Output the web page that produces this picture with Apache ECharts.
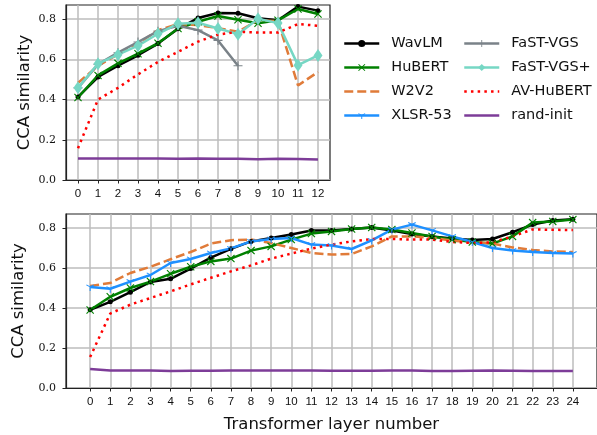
<!DOCTYPE html>
<html>
<head>
<meta charset="utf-8">
<script src="https://cdn.jsdelivr.net/npm/echarts@6/dist/echarts.min.js"></script>
<style>
html,body{margin:0;padding:0;background:#fff;}
#chart{width:597px;height:435px;}
</style>
</head>
<body>
<div id="chart"></div>
<script>
// ---------- data ----------
const layers12 = [0,1,2,3,4,5,6,7,8,9,10,11,12];
const layers24 = [0,1,2,3,4,5,6,7,8,9,10,11,12,13,14,15,16,17,18,19,20,21,22,23,24];
const yTicks = [0, 0.2, 0.4, 0.6, 0.8];

// top panel (12-layer models)
const wavlm12    = [0.413, 0.512, 0.568, 0.62, 0.678, 0.752, 0.805, 0.83, 0.829, 0.804, 0.794, 0.862, 0.842];
const hubert12   = [0.41, 0.52, 0.58, 0.628, 0.68, 0.753, 0.787, 0.815, 0.797, 0.779, 0.794, 0.85, 0.825];
const w2v2_12    = [0.483, 0.567, 0.625, 0.678, 0.745, 0.775, 0.77, 0.755, 0.737, 0.795, 0.79, 0.47, 0.537];
const fastvgs12  = [0.458, 0.575, 0.633, 0.686, 0.74, 0.767, 0.745, 0.694, 0.568];
const fastvgsP12 = [0.458, 0.578, 0.623, 0.668, 0.727, 0.777, 0.782, 0.753, 0.725, 0.802, 0.78, 0.571, 0.619];
const avhubert12 = [0.158, 0.40, 0.458, 0.525, 0.587, 0.637, 0.688, 0.723, 0.737, 0.733, 0.733, 0.775, 0.767];
const randinit12 = [0.107, 0.107, 0.107, 0.107, 0.107, 0.106, 0.107, 0.106, 0.106, 0.103, 0.106, 0.104, 0.102];

// bottom panel (24-layer models)
const wavlm24    = [0.391, 0.431, 0.479, 0.53, 0.546, 0.597, 0.652, 0.696, 0.733, 0.75, 0.767, 0.787, 0.787, 0.795, 0.803, 0.788, 0.77, 0.758, 0.747, 0.74, 0.745, 0.779, 0.817, 0.837, 0.844];
const hubert24   = [0.39, 0.456, 0.50, 0.532, 0.571, 0.606, 0.633, 0.647, 0.687, 0.708, 0.742, 0.772, 0.783, 0.795, 0.803, 0.792, 0.775, 0.758, 0.742, 0.73, 0.722, 0.758, 0.827, 0.833, 0.842];
const w2v2_24    = [0.51, 0.525, 0.575, 0.606, 0.644, 0.68, 0.722, 0.739, 0.742, 0.725, 0.70, 0.675, 0.667, 0.67, 0.708, 0.758, 0.758, 0.75, 0.737, 0.728, 0.722, 0.703, 0.69, 0.683, 0.68];
const xlsr24     = [0.505, 0.496, 0.532, 0.565, 0.625, 0.645, 0.675, 0.698, 0.733, 0.745, 0.75, 0.717, 0.713, 0.695, 0.738, 0.792, 0.817, 0.788, 0.758, 0.73, 0.70, 0.687, 0.68, 0.675, 0.672];
const avhubert24 = [0.155, 0.372, 0.417, 0.45, 0.483, 0.518, 0.551, 0.583, 0.613, 0.647, 0.672, 0.697, 0.717, 0.733, 0.745, 0.745, 0.742, 0.742, 0.73, 0.725, 0.728, 0.758, 0.793, 0.791, 0.79];
const randinit24 = [0.095, 0.088, 0.088, 0.088, 0.085, 0.086, 0.086, 0.087, 0.087, 0.087, 0.087, 0.087, 0.086, 0.086, 0.086, 0.087, 0.087, 0.085, 0.085, 0.086, 0.087, 0.086, 0.085, 0.085, 0.085];

// ---------- styling ----------
const C = {
  wavlm: '#000000', hubert: '#008000', w2v2: '#e07b39', xlsr: '#1e90ff',
  fastvgs: '#7a8288', fastvgsP: '#76d7c4', avhubert: '#ff0000', rand: '#7d3c98'
};
const SYM_X = 'path://M0,1L1,0L5,4L9,0L10,1L6,5L10,9L9,10L5,6L1,10L0,9L4,5Z';
const SYM_PLUS = 'path://M4.4,0H5.6V4.4H10V5.6H5.6V10H4.4V5.6H0V4.4H4.4Z';
const SYM_TRI = 'path://M4.4,5H5.6V10H4.4Z M4.7,4.4L9.0,1.9L9.6,2.9L5.3,5.4Z M5.3,4.4L1.0,1.9L0.4,2.9L4.7,5.4Z M5,0L5.05,0L5,0.05Z';

const pairs = (xs, ys) => ys.map((v, i) => [xs[i], v]);
const LW = 2.5;

function mk(name, data, idx, color, opts) {
  return Object.assign({
    name, type: 'line', xAxisIndex: idx, yAxisIndex: idx,
    data, color, showAllSymbol: true, animation: false,
    symbol: 'none', symbolSize: 6,
    lineStyle: { color, width: LW, type: 'solid' },
    itemStyle: { color }
  }, opts || {});
}

function seriesFor(idx, xs, d) {
  const s = [];
  s.push(mk('WavLM', pairs(xs, d.wavlm), idx, C.wavlm, { symbol: 'circle', symbolSize: 5 }));
  s.push(mk('HuBERT', pairs(xs, d.hubert), idx, C.hubert, { symbol: SYM_X, symbolSize: 8 }));
  s.push(mk('W2V2', pairs(xs, d.w2v2), idx, C.w2v2, { lineStyle: { color: C.w2v2, width: LW, type: [9, 4] } }));
  s.push(mk('XLSR-53', d.xlsr ? pairs(xs, d.xlsr) : [], idx, C.xlsr, { symbol: SYM_TRI, symbolSize: 8 }));
  if (d.fastvgs) s.push(mk('FaST-VGS', pairs(xs, d.fastvgs), idx, C.fastvgs, { symbol: SYM_PLUS, symbolSize: 9 }));
  if (d.fastvgsP) s.push(mk('FaST-VGS+', pairs(xs, d.fastvgsP), idx, C.fastvgsP, { symbol: 'diamond', symbolSize: [9, 13] }));
  s.push(mk('AV-HuBERT', pairs(xs, d.avhubert), idx, C.avhubert, { lineStyle: { color: C.avhubert, width: LW, type: [2.5, 4.2] } }));
  s.push(mk('rand-init', pairs(xs, d.rand), idx, C.rand));
  return s;
}

const series = [].concat(
  seriesFor(0, layers12, { wavlm: wavlm12, hubert: hubert12, w2v2: w2v2_12, fastvgs: fastvgs12, fastvgsP: fastvgsP12, avhubert: avhubert12, rand: randinit12 }),
  seriesFor(1, layers24, { wavlm: wavlm24, hubert: hubert24, w2v2: w2v2_24, xlsr: xlsr24, avhubert: avhubert24, rand: randinit24 })
);

const AX = '#222';
const GRIDC = '#bdbdbd';

function xAxisCfg(idx, ticks, mn, mx, withName) {
  return {
    type: 'value', gridIndex: idx, min: mn, max: mx,
    axisLine: { show: true, onZero: false, lineStyle: { color: AX, width: 1.2 } },
    axisTick: { show: true, inside: false, length: 3.5, customValues: ticks, lineStyle: { color: AX, width: 1 } },
    axisLabel: { customValues: ticks, margin: 8, fontFamily: 'Liberation Sans', fontSize: 11.5, color: '#111',
                 formatter: v => String(Math.round(v)) },
    splitLine: { show: true, lineStyle: { color: GRIDC, width: 1.5 } },
    name: withName ? 'Transformer layer number' : '',
    nameLocation: 'middle', nameGap: 28,
    nameTextStyle: { fontFamily: 'DejaVu Sans', fontSize: 16.5, color: '#111' }
  };
}
function yAxisCfg(idx) {
  return {
    type: 'value', gridIndex: idx, min: 0, max: 0.87,
    axisLine: { show: true, onZero: false, lineStyle: { color: AX, width: 1.2 } },
    axisTick: { show: true, inside: false, length: 3.5, customValues: yTicks, lineStyle: { color: AX, width: 1 } },
    axisLabel: { customValues: yTicks, margin: 10, fontFamily: 'DejaVu Serif', fontSize: 11, color: '#111',
                 formatter: v => v.toFixed(1) },
    splitLine: { show: true, lineStyle: { color: GRIDC, width: 1.5 } },
    name: 'CCA similarity', nameLocation: 'middle', nameGap: 33,
    nameTextStyle: { fontFamily: 'DejaVu Sans', fontSize: 16.5, color: '#111' }
  };
}

const legendBase = {
  orient: 'vertical', top: 36, padding: 0, itemWidth: 35, itemHeight: 9, itemGap: 9,
  selectedMode: false, lineStyle: { width: 2.5 },
  textStyle: { fontFamily: 'DejaVu Sans', fontSize: 14.5, color: '#111', padding: [0, 0, 0, 7] }
};
const NOSYM = { color: 'rgba(0,0,0,0)', borderWidth: 0, borderColor: 'rgba(0,0,0,0)' };

const option = {
  backgroundColor: '#ffffff',
  animation: false,
  grid: [
    { left: 66, top: 5, width: 264, height: 175, show: true, borderColor: AX, borderWidth: 1.2, containLabel: false },
    { left: 66, top: 214, width: 533, height: 174, show: true, borderColor: AX, borderWidth: 1.2, containLabel: false }
  ],
  xAxis: [ xAxisCfg(0, layers12, -0.6, 12.6, false), xAxisCfg(1, layers24, -1.2, 25.2, true) ],
  yAxis: [ yAxisCfg(0), yAxisCfg(1) ],
  legend: [
    Object.assign({}, legendBase, { left: 343, data: [
      { name: 'WavLM' }, { name: 'HuBERT' }, { name: 'W2V2', itemStyle: NOSYM }, { name: 'XLSR-53' }
    ] }),
    Object.assign({}, legendBase, { left: 463, data: [
      { name: 'FaST-VGS' }, { name: 'FaST-VGS+' }, { name: 'AV-HuBERT', itemStyle: NOSYM }, { name: 'rand-init', itemStyle: NOSYM }
    ] })
  ],
  series
};

const chart = echarts.init(document.getElementById('chart'), null, { renderer: 'canvas' });
chart.setOption(option);
</script>
</body>
</html>
